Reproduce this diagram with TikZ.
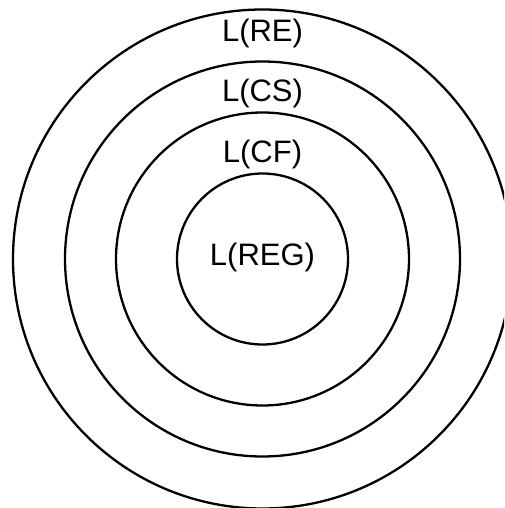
\documentclass[tikz,border=0pt]{standalone}
\usepackage{fontspec}
\setmainfont{Liberation Sans}
\begin{document}
\begin{tikzpicture}[x=1pt,y=-1pt,
  ring/.style={draw=black,line width=2.3pt},
  lab/.style={anchor=base,inner sep=0pt,font=\fontsize{31}{36}\selectfont}]
\clip (0,0) rectangle (504,508);
\fill[white] (0,0) rectangle (504,508);
\coordinate (c) at (262.5,259);
\draw[ring] (c) circle[radius=249.5];
\draw[ring] (c) circle[radius=197.5];
\draw[ring] (c) circle[radius=146.5];
\draw[ring] (c) circle[radius=85.5];
\node[lab] (re) at (262.5,42) {L(RE)};
\node[lab] (cs) at (262.5,102) {L(CS)};
\node[lab] (cf) at (262.5,162) {L(CF)};
\node[lab] (reg) at (262.5,265) {L(REG)};
\end{tikzpicture}
\end{document}
